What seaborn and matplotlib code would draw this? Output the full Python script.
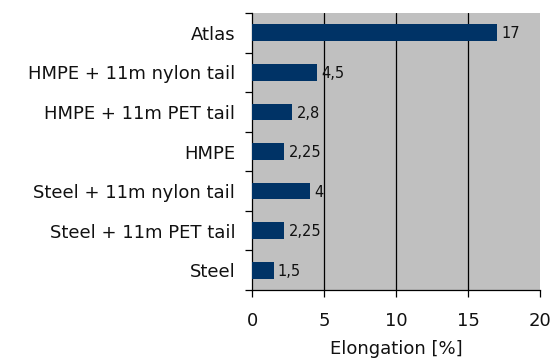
import matplotlib
matplotlib.use("Agg")
import matplotlib.pyplot as plt
import seaborn as sns
import pandas as pd

categories = ["Atlas", "HMPE + 11m nylon tail", "HMPE + 11m PET tail", "HMPE",
              "Steel + 11m nylon tail", "Steel + 11m PET tail", "Steel"]
elongation = [17, 4.5, 2.8, 2.25, 4, 2.25, 1.5]
value_labels = ["17", "4,5", "2,8", "2,25", "4", "2,25", "1,5"]
x_ticks = [0, 5, 10, 15, 20]

df = pd.DataFrame({"category": categories, "elongation": elongation})

sns.set_style("white")
plt.rcParams["font.family"] = ["DejaVu Sans"]
plt.rcParams["text.color"] = "#111111"
plt.rcParams["xtick.color"] = "black"
plt.rcParams["ytick.color"] = "black"
plt.rcParams["xtick.labelcolor"] = "#111111"
plt.rcParams["ytick.labelcolor"] = "#111111"
plt.rcParams["axes.labelcolor"] = "#111111"

fig = plt.figure(figsize=(5.55, 3.6), dpi=100)
ax = fig.add_axes([252 / 555, 1 - 290 / 360, 288 / 555, 277 / 360])
ax.set_facecolor("#C0C0C0")

sns.barplot(data=df, x="elongation", y="category", orient="h",
            color="#003366", width=0.42, saturation=1, linewidth=0,
            edgecolor="none", ax=ax, zorder=3)

ax.set_xlim(0, 20)
ax.set_ylim(6.5, -0.5)
ax.set_xticks(x_ticks)
ax.set_xticklabels([str(t) for t in x_ticks], fontsize=13)
for t in x_ticks[1:-1]:
    ax.axvline(t, color="black", lw=0.9, zorder=1)

# category labels centred on the bars, tick marks on the boundaries
ax.set_yticks(range(len(categories)))
ax.set_yticklabels(categories, fontsize=13)
ax.tick_params(axis="y", which="major", left=False, length=0, pad=12)
ax.set_yticks([i - 0.5 for i in range(len(categories) + 1)], minor=True)
ax.tick_params(axis="y", which="minor", left=True, length=5, width=0.9, direction="out")
ax.tick_params(axis="x", which="major", bottom=True, length=5, width=0.9, direction="out", pad=11)

for i, (v, lab) in enumerate(zip(elongation, value_labels)):
    ax.text(v + 0.3, i + 0.03, lab, va="center", ha="left", fontsize=10.5, zorder=4)

ax.set_xlabel("Elongation [%]", fontsize=13, labelpad=7)
ax.set_ylabel("")

for side in ["top", "right"]:
    ax.spines[side].set_visible(False)
for side in ["left", "bottom"]:
    ax.spines[side].set_color("black")
    ax.spines[side].set_linewidth(0.9)

fig.savefig("out.png", dpi=100)
